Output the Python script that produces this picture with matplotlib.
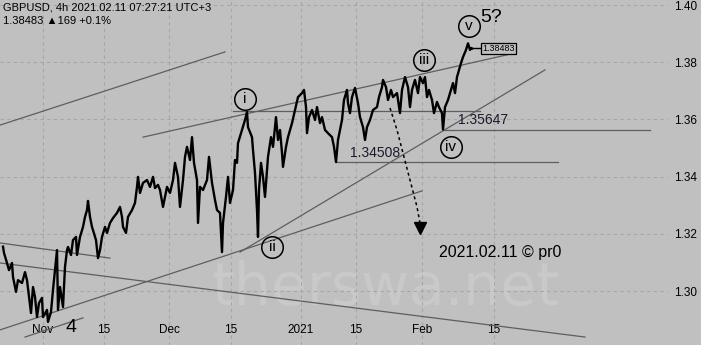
import matplotlib
matplotlib.use("Agg")
import matplotlib.pyplot as plt

plt.rcParams['font.family'] = ['Liberation Sans', 'DejaVu Sans']

# GBPUSD 4h closes, bar index vs price
bars = [3, 4, 7, 9, 12, 13, 16, 18, 22, 25, 27, 29, 31, 33, 35, 37, 39, 42, 43, 47,
        48, 51, 53, 55, 57, 58, 60, 63, 65, 67, 68, 71, 73, 76, 77, 80, 83, 85, 87, 88,
        90, 92, 93, 96, 98, 100, 102, 105, 107, 110, 113, 117, 120, 122, 123, 126, 128, 132, 135, 137,
        138, 140, 143, 147, 150, 153, 155, 158, 160, 163, 167, 170, 173, 175, 178, 180, 183, 185, 187, 190,
        192, 194, 197, 198, 200, 203, 207, 209, 212, 215, 217, 220, 222, 223, 226, 228, 230, 233, 235, 237,
        238, 242, 245, 247, 248, 252, 253, 255, 257, 258, 259, 261, 263, 265, 267, 268, 271, 273, 276, 278,
        280, 282, 283, 286, 288, 292, 295, 298, 302, 304, 306, 307, 309, 312, 315, 317, 320, 322, 325, 328,
        332, 334, 336, 338, 342, 344, 347, 348, 350, 352, 355, 358, 360, 363, 365, 367, 370, 373, 377, 379,
        382, 383, 386, 388, 391, 393, 397, 400, 402, 405, 408, 410, 412, 415, 418, 420, 423, 425, 427, 429,
        432, 434, 437, 439, 442, 443, 445, 448, 451, 453, 455, 457, 459, 461, 463, 466, 468, 470, 471, 472]
closes = [1.3155, 1.3133, 1.3098, 1.3073, 1.3098, 1.3049, 1.2997, 1.3038, 1.3028, 1.3066,
          1.3038, 1.2979, 1.2923, 1.3014, 1.2979, 1.2909, 1.2958, 1.2976, 1.2909, 1.2934,
          1.2892, 1.2927, 1.3004, 1.3073, 1.3143, 1.2934, 1.3014, 1.2944, 1.3084, 1.3143,
          1.3154, 1.3126, 1.3178, 1.3189, 1.3126, 1.3189, 1.3224, 1.3259, 1.3283, 1.3315,
          1.3259, 1.3224, 1.3213, 1.3178, 1.3115, 1.3143, 1.3189, 1.3224, 1.3203, 1.3238,
          1.3255, 1.3273, 1.3294, 1.3259, 1.3224, 1.3203, 1.3259, 1.3283, 1.3308, 1.3364,
          1.3399, 1.3343, 1.3378, 1.3388, 1.3364, 1.3399, 1.3360, 1.3371, 1.3353, 1.3294,
          1.3364, 1.3343, 1.3388, 1.3448, 1.3399, 1.3294, 1.3388, 1.3469, 1.3504, 1.3458,
          1.3538, 1.3448, 1.3388, 1.3238, 1.3364, 1.3353, 1.3388, 1.3469, 1.3378, 1.3318,
          1.3283, 1.3273, 1.3136, 1.3238, 1.3329, 1.3399, 1.3308, 1.3353, 1.3458, 1.3448,
          1.3517, 1.3563, 1.3598, 1.3626, 1.3573, 1.3538, 1.3493, 1.3413, 1.3283, 1.3189,
          1.3353, 1.3448, 1.3399, 1.3329, 1.3423, 1.3469, 1.3538, 1.3504, 1.3608, 1.3528,
          1.3563, 1.3483, 1.3434, 1.3504, 1.3538, 1.3587, 1.3633, 1.3678, 1.3692, 1.3703,
          1.3643, 1.3552, 1.3608, 1.3633, 1.3598, 1.3643, 1.3587, 1.3608, 1.3563, 1.3552,
          1.3538, 1.3504, 1.3451, 1.3528, 1.3598, 1.3668, 1.3703, 1.3657, 1.3622, 1.3678,
          1.3710, 1.3657, 1.3608, 1.3573, 1.3528, 1.3573, 1.3598, 1.3633, 1.3643, 1.3678,
          1.3713, 1.3738, 1.3713, 1.3668, 1.3703, 1.3678, 1.3692, 1.3622, 1.3703, 1.3748,
          1.3713, 1.3643, 1.3703, 1.3738, 1.3692, 1.3748, 1.3727, 1.3748, 1.3678, 1.3703,
          1.3668, 1.3622, 1.3661, 1.3643, 1.3622, 1.3565, 1.3643, 1.3668, 1.3703, 1.3727,
          1.3692, 1.3748, 1.3773, 1.3797, 1.3818, 1.3843, 1.3866, 1.3843, 1.3850, 1.3848]

tick_bars = [43, 104, 169, 231, 301, 356, 422, 494]
tick_labels = ['Nov', '15', 'Dec', '15', '2021', '15', 'Feb', '15']
price_ticks = [1.30, 1.32, 1.34, 1.36, 1.38, 1.40]

# trend lines: (bar0, price0, bar1, price1)
trend_lines = [
    (0, 1.3580, 225, 1.3836),
    (143, 1.3538, 515, 1.3832),
    (233, 1.3628, 480, 1.3628),
    (336, 1.34508, 558, 1.34508),
    (443, 1.35647, 650, 1.35647),
    (0, 1.2864, 422, 1.3350),
    (240, 1.3136, 545, 1.3773),
    (25, 1.2839, 83, 1.2906),
    (0, 1.3168, 110, 1.3115),
    (0, 1.3098, 585, 1.2839),
]

# projected path (dashed arrow)
arrow_bars = [390, 397, 403, 410, 417, 420]
arrow_prices = [1.3640, 1.3563, 1.3482, 1.3388, 1.3294, 1.3238]

# wave labels
wave_names = ['i', 'ii', 'iii', 'iv', 'v']
wave_bars = [245, 272, 424, 451, 469]
wave_prices = [1.3671, 1.3154, 1.3808, 1.3503, 1.3927]

bg = '#c0c0c0'
fig = plt.figure(figsize=(7.01, 3.45), dpi=100, facecolor=bg)
ax = fig.add_axes([0, 0, 668 / 701, 1])
ax.set_facecolor(bg)
ax.set_xlim(0, 668)
ax.set_ylim(1.28112, 1.40175)
for s in ax.spines.values():
    s.set_visible(False)

ax.set_yticks(price_ticks)
ax.set_yticklabels(['%.2f' % p for p in price_ticks])
ax.yaxis.tick_right()
ax.tick_params(axis='y', length=0, pad=4, labelsize=8.5)
ax.set_xticks(tick_bars)
ax.set_xticklabels(tick_labels)
ax.tick_params(axis='x', length=0, pad=-15, labelsize=8.5)
ax.grid(True, color='#a6a6a6', linestyle=(0, (3, 3)), linewidth=0.8)

# watermark
ax.text(385, 1.3008, 'therswa.net', fontsize=42, family='DejaVu Sans',
        color='#c9c9c9', ha='center', va='center', zorder=1)

for b0, p0, b1, p1 in trend_lines:
    ax.plot([b0, b1], [p0, p1], color='#5e5e5e', linewidth=0.9, zorder=2)

ax.plot(bars, closes, color='black', linewidth=1.7, zorder=3)

ax.plot(arrow_bars, arrow_prices, color='black', linestyle=(0, (2, 2)), linewidth=1.1, zorder=3)
ax.plot([420], [1.3222], marker='v', color='black', markersize=8, zorder=3)

for name, b, p in zip(wave_names, wave_bars, wave_prices):
    ax.plot([b], [p], marker='o', markersize=15.5, markerfacecolor='none',
            markeredgecolor='black', markeredgewidth=1.1, zorder=4)
    ax.text(b, p, name, fontsize=11, ha='center', va='center', zorder=4)

ax.text(491, 1.3958, '5?', fontsize=14, ha='center', va='center')
ax.text(375, 1.3482, '1.34508', fontsize=10, ha='center', va='center', color='#1a1a2a')
ax.text(483, 1.3598, '1.35647', fontsize=10, ha='center', va='center', color='#1a1a2a')
ax.text(500, 1.3136, '2021.02.11 \u00a9 pr0', fontsize=11.5, ha='center', va='center')
ax.text(71, 1.2874, '4', fontsize=14, ha='center', va='center')

ax.plot([472, 481], [1.38483, 1.38483], color='black', linewidth=1.0, zorder=3)
ax.text(482, 1.38483, '1.38483', fontsize=6.5, ha='left', va='center',
        bbox=dict(boxstyle='square,pad=0.15', fc=bg, ec='black', lw=0.9))

fig.text(3 / 701, 1 - 8 / 345, 'GBPUSD, 4h 2021.02.11 07:27:21 UTC+3', fontsize=8,
         ha='left', va='center')
fig.text(3 / 701, 1 - 21 / 345, '1.38483 \u25b2169 +0.1%', fontsize=8,
         ha='left', va='center')

fig.savefig('out.png', dpi=100, facecolor=bg)
